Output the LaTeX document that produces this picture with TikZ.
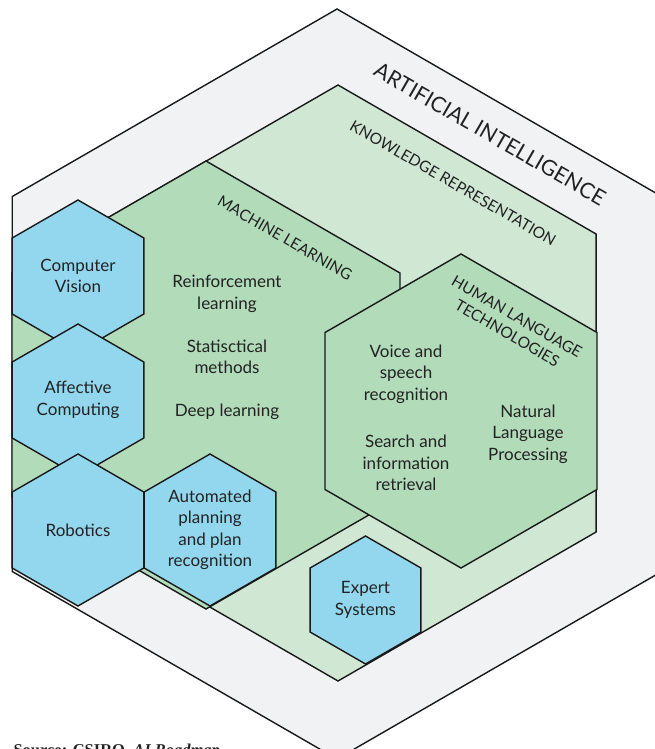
\documentclass[tikz,border=0pt]{standalone}
\usepackage{fontspec}
\setmainfont{Lato}
\newfontfamily\srcfont{Liberation Serif}
\usetikzlibrary{shapes.geometric}

\definecolor{aigray}{HTML}{F1F2F4}
\definecolor{krgreen}{HTML}{CFE7D3}
\definecolor{mlgreen}{HTML}{B1DBB9}
\definecolor{hexblue}{HTML}{93D7EE}
\definecolor{txt}{HTML}{222222}

\tikzset{
	hexa/.style={regular polygon, regular polygon sides=6, shape border rotate=30,
		draw=black!90, line width=1.4pt, inner sep=0pt, outer sep=0pt, minimum size=#1},
	field/.style={text=txt, font=\fontsize{17}{21.5}\selectfont, align=center},
	area/.style={text=txt, font=\fontsize{15.5}{19}\selectfont, rotate=-30, align=center}
}

\begin{document}
\begin{tikzpicture}[x=1pt,y=-1pt]
					\useasboundingbox (0,0) rectangle (655,749);
					\clip (0,0) rectangle (655,749);
					
					%BIG HEXAGONS
					\node[hexa=750, fill=aigray] (ai) at (337,384) {};
					\node[hexa=596, fill=krgreen] (kr) at (338,383) {};
					\node[hexa=448, fill=mlgreen] (ml) at (206,385) {};
					\node[hexa=314, fill=mlgreen] (hlt) at (461,411) {};
					
					%AREA LABELS
					\node[area, font=\fontsize{21.5}{24}\selectfont] (ailabel) at (490,134) {ARTIFICIAL INTELLIGENCE};
					\node[area] (krlabel) at (453,183) {KNOWLEDGE REPRESENTATION};
					\node[area] (mllabel) at (285,238) {MACHINE LEARNING};
					\node[area] (hltlabel) at (512,325) {HUMAN LANGUAGE\\TECHNOLOGIES};
					
					%FIELDS
					\node[field] (rl) at (227,294) {Reinforcement\\learning};
					\node[field] (sm) at (227,357) {Statisctical\\methods};
					\node[field] (dl) at (227,412) {Deep learning};
					\node[field] (vs) at (406,374) {Voice and\\speech\\recognition};
					\node[field] (sr) at (406,463) {Search and\\information\\retrieval};
					\node[field] (nlp) at (528,434) {Natural\\Language\\Processing};
					
					%BLUE HEXAGONS
					\node[hexa=128, fill=hexblue, field] (es) at (365.5,600) {Expert\\Systems};
					\node[hexa=152, fill=hexblue, field] (cv) at (78,276) {Computer\\Vision};
					\node[hexa=152, fill=hexblue, field] (ac) at (78,400) {Affective\\Computing};
					\node[hexa=152, fill=hexblue, field] (rob) at (78,530) {Robotics};
					\node[hexa=152, fill=hexblue, field] (ap) at (210,530) {Automated\\planning\\and plan\\recognition};
					
					\node[anchor=base west, text=txt, font=\srcfont\bfseries\fontsize{16.5}{18}\selectfont] (src) at (10,755) {Source: CSIRO, \textit{AI Roadmap}};
				
				  \end{tikzpicture}
\end{document}
